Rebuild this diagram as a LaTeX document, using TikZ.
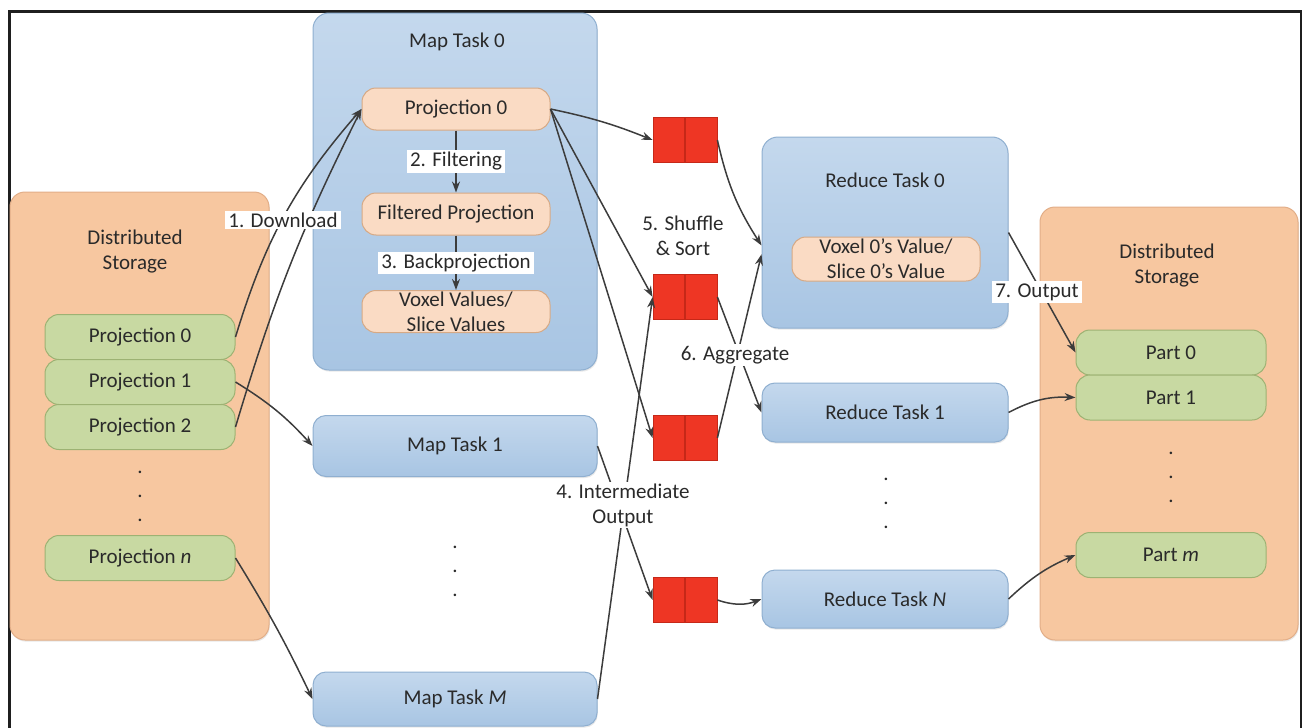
\documentclass[tikz,border=0pt]{standalone}
\usepackage{fontspec}
\setmainfont{Carlito}
\usepackage{xcolor}
\usepackage{tikz}
\usetikzlibrary{positioning, arrows.meta, shadows}

\definecolor{txt}{HTML}{2A2A2A}
\definecolor{linec}{HTML}{3C3C3C}
\definecolor{storefill}{HTML}{F7C7A0}
\definecolor{storeedge}{HTML}{E2AE88}
\definecolor{tasktop}{HTML}{C4D8ED}
\definecolor{taskbot}{HTML}{A8C5E3}
\definecolor{taskedge}{HTML}{8FAFD0}
\definecolor{infill}{HTML}{FADBC4}
\definecolor{inedge}{HTML}{D6A985}
\definecolor{partfill}{HTML}{C8D9A2}
\definecolor{partedge}{HTML}{9DB273}
\definecolor{buffill}{HTML}{EE3624}
\definecolor{bufedge}{HTML}{C62818}

\tikzset{
  base/.style={font=\fontsize{10.5}{12.5}\selectfont, text=txt, align=center, inner sep=0pt},
  store/.style={base, draw=storeedge, fill=storefill, rounded corners=7.5pt, line width=0.5pt,
    drop shadow={opacity=0.18, shadow xshift=0.4pt, shadow yshift=-0.8pt}},
  task/.style={base, draw=taskedge, top color=tasktop, bottom color=taskbot, rounded corners=6.5pt,
    line width=0.5pt, drop shadow={opacity=0.18, shadow xshift=0.4pt, shadow yshift=-0.8pt}},
  inbox/.style={base, draw=inedge, fill=infill, rounded corners=7pt, line width=0.5pt,
    minimum width=94pt, minimum height=21pt},
  part/.style={base, draw=partedge, fill=partfill, rounded corners=7pt, line width=0.5pt,
    minimum width=95pt, minimum height=22.5pt},
  buf/.style={draw=bufedge, fill=buffill, line width=0.4pt, minimum width=32pt, minimum height=22.5pt,
    path picture={\draw[bufedge, line width=0.6pt] (path picture bounding box.north)
      -- (path picture bounding box.south);}},
  lbl/.style={base, fill=white, inner xsep=1.5pt, inner ysep=1pt},
  dots/.style={base, font=\fontsize{10.5}{12}\selectfont},
  flow/.style={->, color=linec, line width=0.75pt},
}

\begin{document}
\begin{tikzpicture}[x=0.5pt, y=0.5pt, on grid, >={Stealth[length=5.5pt, width=4pt]}]
    \useasboundingbox (0,0) rectangle (1302,-728);
    % Frame
    \draw[line width=1.5pt, black!88] (9,-728) -- (9,-11) -- (1301,-11) -- (1301,-728);

    % Input storage
    \node[store, minimum width=129.5pt, minimum height=224pt] (dsl) at (139.5,-416) {};
    \node[base] (dsltitle) at (135,-252) {Distributed\\Storage};
    \node[part] (p0) at (140,-337) {Projection 0};
    \node[part, below=22.5pt of p0] (p1) {Projection 1};
    \node[part, below=22.5pt of p1] (p2) {Projection 2};
    \node[dots] (pdots) at (140,-496) {.\\.\\.};
    \node[part] (pn) at (140,-558) {Projection \textit{n}};

    % Map tasks
    \node[task, minimum width=142pt, minimum height=178.5pt, rounded corners=8pt] (mt0) at (455,-191.5) {};
    \node[base] (mt0title) at (457,-42) {Map Task 0};
    \node[inbox] (mp0) at (456,-109) {Projection 0};
    \node[inbox] (mfp) at (456,-214) {Filtered Projection};
    \node[inbox] (mvv) at (456,-311.5) {Voxel Values/\\Slice Values};
    \node[task, minimum width=142pt, minimum height=30.5pt] (mt1) at (455,-446) {Map Task 1};
    \node[dots] (mtdots) at (455,-571) {.\\.\\.};
    \node[task, minimum width=142pt, minimum height=27pt] (mtM) at (455,-699) {Map Task \textit{M}};

    % Buffers
    \node[buf] (b0) at (685,-140) {};
    \node[buf] (b1) at (685,-297) {};
    \node[buf] (b2) at (685,-438) {};
    \node[buf] (b3) at (685,-600) {};

    % Reduce tasks
    \node[task, minimum width=123pt, minimum height=95.5pt, rounded corners=8pt] (rt0) at (885,-232.5) {};
    \node[base] (rt0title) at (885,-180) {Reduce Task 0};
    \node[inbox, minimum width=94pt, minimum height=22pt] (rv0) at (886,-259) {Voxel 0's Value/\\Slice 0's Value};
    \node[task, minimum width=123pt, minimum height=29.5pt] (rt1) at (885,-412.5) {Reduce Task 1};
    \node[dots] (rtdots) at (886,-503) {.\\.\\.};
    \node[task, minimum width=123pt, minimum height=29pt] (rtN) at (885,-599) {Reduce Task \textit{N}};

    % Output storage
    \node[store, minimum width=129pt, minimum height=216.5pt] (dsr) at (1169,-423.5) {};
    \node[base] (dsrtitle) at (1167,-266) {Distributed\\Storage};
    \node[part] (pt0) at (1171,-352.5) {Part 0};
    \node[part, below=22.5pt of pt0] (pt1) {Part 1};
    \node[dots] (ptdots) at (1171,-477) {.\\.\\.};
    \node[part] (ptm) at (1171,-555) {Part \textit{m}};

    % Transitions
    \path[flow]
      % Download
      (p0.east)  edge [bend left=12]  (mp0.west)
      (p2.east)  edge [bend left=5]   (mp0.west)
      (p1.east)  edge [bend left=8]   (mt1.west)
      (pn.east)  edge [bend left=3]   (mtM.west)
      % Inside map task 0
      (mp0)      edge node [lbl] {2. Filtering}      (mfp)
      (mfp)      edge node [lbl] {3. Backprojection} (mvv)
      % Intermediate output
      (mp0.east) edge [bend left=5]   (b0.west)
      (mp0.east) edge                 (b1.west)
      (mp0.east) edge                 (b2.west)
      (mt1.east) edge                 (b3.west)
      (mtM.east) edge                 (b1.west)
      % Aggregate
      (b0.east)  edge [bend right=10] (rt0.186)
      (b1.east)  edge                 (rt1.west)
      (b2.east)  edge                 (rt0.190)
      (b3.east)  edge [bend right=20] (rtN.west)
      % Output
      (rt0.east) edge                 (pt0.west)
      (rt1.east) edge [bend left=15]  (pt1.west)
      (rtN.east) edge [bend left=10]  (ptm.west);

    % Step labels
    \node[lbl] (ldown) at (283,-220) {1. Download};
    \node[lbl] (linter) at (623,-505) {4. Intermediate\\Output};
    \node[base] (lshuf) at (683,-236) {5. Shuffle\\\& Sort};
    \node[lbl] (laggr) at (735,-355) {6. Aggregate};
    \node[lbl] (lout) at (1037,-292) {7. Output};
\end{tikzpicture}
\end{document}
